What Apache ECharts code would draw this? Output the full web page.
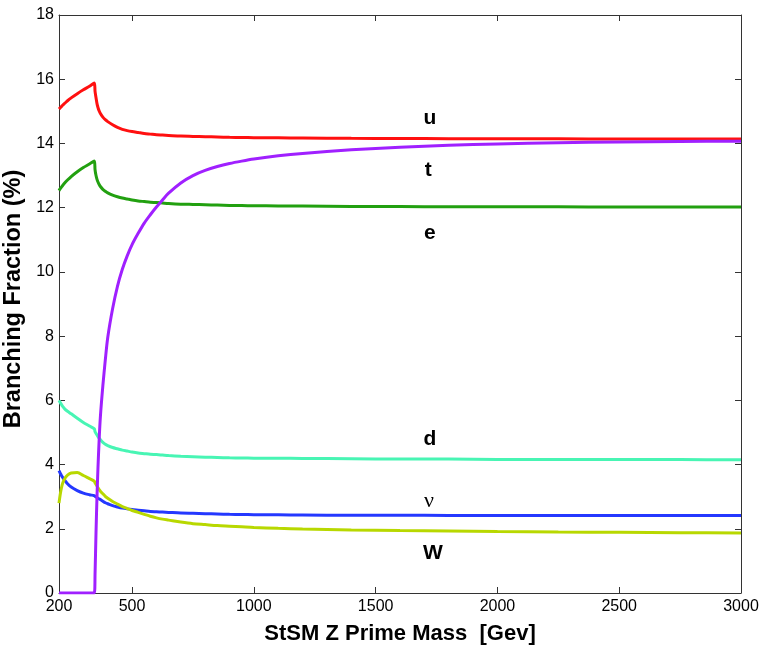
<!DOCTYPE html>
<html>
<head>
<meta charset="utf-8">
<script src="https://cdn.jsdelivr.net/npm/echarts@6/dist/echarts.min.js"></script>
<style>
html,body{margin:0;padding:0;background:#fff;}
#chart{width:763px;height:654px;}
</style>
</head>
<body>
<div id="chart"></div>
<script>
// Z' mass grid (GeV)
const masses = [200,205,210,215,225,235,250,275,300,325,345,348,352,356,360,365,370,380,390,400,420,440,460,480,500,525,550,575,600,625,650,700,750,800,850,900,950,1000,1100,1200,1400,1600,1800,2000,2250,2500,2750,3000];
// Branching fractions (%)
const uVals  = [15.07,15.11,15.15,15.19,15.26,15.33,15.42,15.55,15.67,15.78,15.88,15.62,15.42,15.24,15.12,15.01,14.93,14.82,14.74,14.68,14.58,14.50,14.44,14.40,14.37,14.34,14.31,14.29,14.27,14.26,14.25,14.23,14.22,14.21,14.20,14.19,14.185,14.18,14.175,14.17,14.16,14.155,14.15,14.15,14.145,14.14,14.14,14.14];
const eVals  = [12.53,12.59,12.64,12.69,12.78,12.86,12.97,13.12,13.25,13.36,13.45,13.18,13.00,12.88,12.80,12.72,12.66,12.57,12.51,12.46,12.39,12.34,12.30,12.27,12.24,12.21,12.19,12.17,12.16,12.145,12.13,12.11,12.10,12.09,12.08,12.07,12.065,12.06,12.055,12.05,12.04,12.035,12.03,12.03,12.025,12.02,12.02,12.02];
const dVals  = [6.00,5.93,5.87,5.81,5.72,5.66,5.58,5.44,5.31,5.20,5.11,5.02,4.97,4.92,4.87,4.82,4.77,4.69,4.63,4.59,4.53,4.49,4.45,4.42,4.39,4.36,4.34,4.32,4.31,4.295,4.28,4.26,4.245,4.23,4.22,4.21,4.205,4.20,4.195,4.19,4.18,4.17,4.17,4.16,4.16,4.16,4.155,4.15];
const nuVals = [3.81,3.73,3.66,3.60,3.50,3.40,3.30,3.19,3.11,3.06,3.03,3.01,2.99,2.97,2.95,2.93,2.91,2.86,2.81,2.78,2.72,2.68,2.645,2.62,2.60,2.58,2.56,2.54,2.53,2.52,2.51,2.49,2.48,2.47,2.46,2.45,2.445,2.44,2.435,2.43,2.42,2.42,2.415,2.41,2.41,2.41,2.41,2.41];
const wVals  = [2.80,3.07,3.27,3.42,3.58,3.67,3.74,3.75,3.66,3.56,3.48,3.43,3.38,3.33,3.28,3.22,3.17,3.09,3.01,2.95,2.85,2.77,2.69,2.63,2.57,2.51,2.45,2.39,2.34,2.30,2.27,2.21,2.16,2.13,2.10,2.08,2.06,2.04,2.015,1.995,1.965,1.945,1.93,1.915,1.90,1.89,1.88,1.87];
const tVals  = [0,0,0,0,0,0,0,0,0,0,0,0.6,1.9,3.0,3.9,4.8,5.5,6.45,7.25,7.95,8.85,9.55,10.08,10.5,10.85,11.2,11.52,11.78,12.02,12.24,12.45,12.77,13.00,13.16,13.28,13.375,13.45,13.515,13.615,13.69,13.80,13.88,13.94,13.985,14.02,14.045,14.06,14.07];

const xTicks = [200,500,1000,1500,2000,2500,3000];
const yTicks = [0,2,4,6,8,10,12,14,16,18];

// curve name labels: [text, mass, value]
const curveLabels = [
  ['u', 1723, 14.80],
  ['t', 1716, 13.16],
  ['e', 1723, 11.22],
  ['d', 1723, 4.78],
  ['\u03bd', 1719, 2.85],
  ['W', 1735, 1.24]
];

const chart = echarts.init(document.getElementById('chart'), null, {renderer:'canvas'});

function mk(name, vals, color){
  return {
    name: name, type: 'line', showSymbol: false, smooth: 0.3,
    data: masses.map((m,i)=>[m, vals[i]]),
    lineStyle: {color: color, width: 3},
    itemStyle: {color: color},
    emphasis: {disabled: true},
    xAxisIndex: 0, yAxisIndex: 0
  };
}

const axisCol = '#333';
const tickFont = {fontFamily: 'Liberation Sans, Arial, sans-serif', fontSize: 16, color: '#000'};
const plain = v => String(v);

chart.setOption({
  animation: false,
  backgroundColor: '#fff',
  grid: {left: 59, right: 22, top: 15, bottom: 61, outerBoundsMode: 'none', containLabel: false},
  xAxis: [{
    type: 'value', min: 200, max: 3000, position: 'bottom',
    name: 'StSM Z Prime Mass  [Gev]', nameLocation: 'middle', nameGap: 30,
    nameTextStyle: {fontFamily: 'Liberation Sans, Arial, sans-serif', fontSize: 22, fontWeight: 'bold', color: '#000'},
    axisLine: {show: true, lineStyle: {color: axisCol, width: 1}},
    axisTick: {show: true, inside: true, length: 6, customValues: xTicks, lineStyle: {color: axisCol}},
    axisLabel: Object.assign({show: true, margin: 6, customValues: xTicks, formatter: plain}, tickFont),
    splitLine: {show: false}
  },{
    type: 'value', min: 200, max: 3000, position: 'top',
    axisLine: {show: true, onZero: false, lineStyle: {color: axisCol, width: 1}},
    axisTick: {show: true, inside: true, length: 6, customValues: xTicks, lineStyle: {color: axisCol}},
    axisLabel: {show: false},
    splitLine: {show: false}
  }],
  yAxis: [{
    type: 'value', min: 0, max: 18, interval: 2, position: 'left',
    name: 'Branching Fraction (%)', nameLocation: 'middle', nameGap: 28, nameRotate: 90,
    nameTextStyle: {fontFamily: 'Liberation Sans, Arial, sans-serif', fontSize: 23.5, fontWeight: 'bold', color: '#000', padding: [0,0,0,10]},
    axisLine: {show: true, lineStyle: {color: axisCol, width: 1}},
    axisTick: {show: true, inside: true, length: 6, lineStyle: {color: axisCol}},
    axisLabel: Object.assign({show: true, margin: 5, formatter: plain}, tickFont),
    splitLine: {show: false}
  },{
    type: 'value', min: 0, max: 18, interval: 2, position: 'right',
    axisLine: {show: true, onZero: false, lineStyle: {color: axisCol, width: 1}},
    axisTick: {show: true, inside: true, length: 6, lineStyle: {color: axisCol}},
    axisLabel: {show: false},
    splitLine: {show: false}
  }],
  series: [
    mk('u', uVals, '#ff1010'),
    mk('e', eVals, '#22a010'),
    mk('d', dVals, '#48f5b4'),
    mk('nu', nuVals, '#2438ff'),
    mk('W', wVals, '#b8d800'),
    mk('t', tVals, '#a020ff')
  ]
});

const graphics = curveLabels.map(function(l){
  const p = chart.convertToPixel({xAxisIndex: 0, yAxisIndex: 0}, [l[1], l[2]]);
  const isNu = l[0] === '\u03bd';
  return {
    type: 'text', x: p[0], y: p[1], z: 10,
    style: {
      text: l[0], fill: '#000', align: 'center', verticalAlign: 'middle',
      font: isNu ? 'normal 22px "Liberation Serif", "Times New Roman", serif'
                 : 'bold 21px "Liberation Sans", Arial, sans-serif'
    }
  };
});
chart.setOption({graphic: graphics});
</script>
</body>
</html>
